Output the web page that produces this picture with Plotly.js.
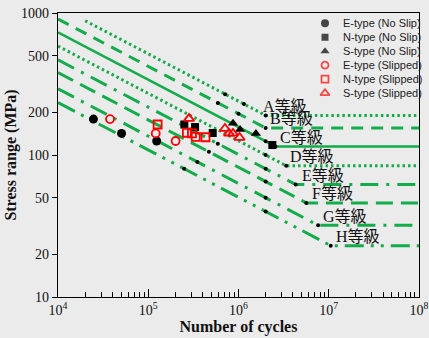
<!DOCTYPE html>
<html><head><meta charset="utf-8">
<script src="https://cdn.plot.ly/plotly-3.0.1.min.js"></script>
<style>html,body{margin:0;padding:0;background:#ebebeb;}#chart{width:429px;height:338px;}</style>
</head><body><div id="chart"></div>
<script>
// ---- data ----
const grades = ['A','B','C','D','E','F','G','H'];
const gradeLabels = ['A等級','B等級','C等級','D等級','E等級','F等級','G等級','H等級'];
const strengthAt2e6 = [190,155,125,100,80,65,50,40];     // MPa at 2x10^6 cycles
const cutoffStress = [190,155,115,84,62,46,32,23];       // constant-amplitude fatigue limit
const curveStartN = [2e4,1e4,1e4,1e4,1e4,1e4,1e4,1e4];
const referenceN = 2e6;
const curveEndN = 1e8;
const slopeM = 3;

// small black marks drawn on the curves
const markGrade = ['A','A','B','B','E','F','G','H'];
const markN = [7.1e5,1.15e6,5.9e5,1.0e6,5.9e5,4.7e5,3.5e5,2.5e5];

const seriesNames = ['E-type (No Slip)','N-type (No Slip)','S-type (No Slip)','E-type (Slipped)','N-type (Slipped)','S-type (Slipped)'];
const eNoSlipN = [2.47e4,5.06e4,1.24e5];
const eNoSlipS = [179,142,125.5];
const nNoSlipN = [2.51e5,3.30e5,5.18e5,2.37e6];
const nNoSlipS = [164,157.3,142.8,117.6];
const sNoSlipN = [8.69e5,1.04e6,1.56e6];
const sNoSlipS = [167,151,142];
const eSlipN = [3.77e4,1.21e5,2.01e5];
const eSlipS = [179,142,125.5];
const nSlipN = [1.27e5,2.68e5,3.05e5,3.36e5,4.31e5];
const nSlipS = [164,143.4,142,134,133.4];
const sSlipN = [2.83e5,7.08e5,7.85e5,8.69e5,1.026e6];
const sSlipS = [180.5,153.5,142,142,132.7];

const xTickVals = [1e4,1e5,1e6,1e7,1e8];
const xTickText = ['10<sup>4</sup>','10<sup>5</sup>','10<sup>6</sup>','10<sup>7</sup>','10<sup>8</sup>'];
const yTickVals = [10,20,50,100,200,500,1000];
const yTickText = ['10','20','50','100','200','500','1000'];

// ---- styles ----
const GREEN = '#12ad4a';
const dashStyle = {A:'2.5px,3px',B:'12px,8px',C:'solid',D:'2.5px,3px',E:'18px,8px,3px,8px',F:'17px,8px',G:'18px,8px,3px,8px',H:'19px,7px,3px,7px,3px,7px'};
const lineW = {A:3,B:3,C:2.5,D:3,E:3,F:3,G:3,H:3};
const labelShiftX = {A:-5,B:2,C:3,D:2,E:4,F:4,G:3,H:3};

function stressAt(i, n){ return strengthAt2e6[i]*Math.pow(referenceN/n, 1/slopeM); }
function cutoffN(i){ return referenceN*Math.pow(strengthAt2e6[i]/cutoffStress[i], slopeM); }

const traces = [];
grades.forEach((g,i)=>{
  const nc = cutoffN(i);
  traces.push({type:'scatter',mode:'lines',x:[curveStartN[i],nc,curveEndN],
    y:[stressAt(i,curveStartN[i]),cutoffStress[i],cutoffStress[i]],
    line:{color:GREEN,width:lineW[g],dash:dashStyle[g]},showlegend:false,hoverinfo:'skip'});
});
// black marks: at 2e6, at cutoff, and extra marks
const mx=[], my=[];
grades.forEach((g,i)=>{ mx.push(referenceN); my.push(stressAt(i,referenceN));
  const nc=cutoffN(i); if(nc>referenceN*1.01){mx.push(nc); my.push(cutoffStress[i]);} });
markGrade.forEach((g,k)=>{ const i=grades.indexOf(g); mx.push(markN[k]); my.push(stressAt(i,markN[k])); });
traces.push({type:'scatter',mode:'markers',x:mx,y:my,marker:{color:'black',size:4},showlegend:false,hoverinfo:'skip'});

const seriesX=[eNoSlipN,nNoSlipN,sNoSlipN,eSlipN,nSlipN,sSlipN];
const seriesY=[eNoSlipS,nNoSlipS,sNoSlipS,eSlipS,nSlipS,sSlipS];
const seriesSym=['circle','square','triangle-up','circle-open','square-open','triangle-up-open'];
const seriesCol=['black','black','black','#ff0000','#ff0000','#ff0000'];
const seriesSize=[9,8,9,8,8,9];
seriesNames.forEach((nm,k)=>{
  traces.push({type:'scatter',mode:'markers',name:nm,x:seriesX[k],y:seriesY[k],
    marker:{symbol:seriesSym[k],color:seriesCol[k],size:seriesSize[k],line:{color:seriesCol[k],width:k>=3?1.8:0}},showlegend:false});
});
// custom legend keys on a pixel overlay axis
const legKeyX=325, legTextX=341, legTop=23, legGap=14;
traces.push({type:'scatter',mode:'markers',xaxis:'x2',yaxis:'y2',
  x:seriesNames.map(()=>legKeyX), y:seriesNames.map((_,k)=>legTop+k*legGap),
  marker:{symbol:seriesSym,color:seriesCol,size:[8,7,8,7,7,8],line:{color:seriesCol,width:[0,0,0,1.8,1.8,1.8]}},
  showlegend:false,hoverinfo:'skip'});

const annotations=[];
grades.forEach((g,i)=>{
  annotations.push({xref:'x',yref:'y',x:Math.log10(cutoffN(i)),y:Math.log10(cutoffStress[i]),
    text:gradeLabels[i],showarrow:false,xanchor:'left',yanchor:'middle',xshift:labelShiftX[g],yshift:9,
    font:{family:'Liberation Serif, "Noto Sans CJK JP"',size:16,color:'#111'}});
});
seriesNames.forEach((nm,k)=>{
  annotations.push({xref:'x2',yref:'y2',x:legTextX,y:legTop+k*legGap,text:nm,showarrow:false,
    xanchor:'left',yanchor:'middle',font:{family:'Liberation Sans, Arial',size:11,color:'#222'}});
});

const layout={
  width:429,height:338,margin:{l:58,r:10,t:13,b:41},
  paper_bgcolor:'#ebebeb',plot_bgcolor:'#ebebeb',showlegend:false,
  xaxis:{type:'log',range:[4,8],tickmode:'array',tickvals:xTickVals,ticktext:xTickText,
    ticks:'inside',ticklen:8,tickwidth:1,tickcolor:'black',showline:true,linecolor:'black',linewidth:1.3,mirror:true,
    showgrid:false,zeroline:false,
    minor:{ticks:'inside',ticklen:5,tickwidth:1,tickcolor:'black',dtick:'D1',showgrid:false},
    tickfont:{family:'Liberation Serif',size:14,color:'#111'},
    title:{text:'<b>Number of cycles</b>',font:{family:'Liberation Serif',size:16,color:'#111'},standoff:2}},
  yaxis:{type:'log',range:[1,3],tickmode:'array',tickvals:yTickVals,ticktext:yTickText,
    ticks:'outside',ticklen:5,tickwidth:1,tickcolor:'black',showline:true,linecolor:'black',linewidth:1.3,mirror:true,
    showgrid:false,zeroline:false,
    tickfont:{family:'Liberation Serif',size:14,color:'#111'},
    title:{text:'<b>Stress range (MPa)</b>',font:{family:'Liberation Serif',size:16,color:'#111'},standoff:0}},
  xaxis2:{overlaying:'x',range:[58,419],visible:false,fixedrange:true},
  yaxis2:{overlaying:'y',range:[297.3,12.7],visible:false,fixedrange:true},
  annotations:annotations
};
Plotly.newPlot('chart',traces,layout,{displayModeBar:false,staticPlot:true});
</script></body></html>
